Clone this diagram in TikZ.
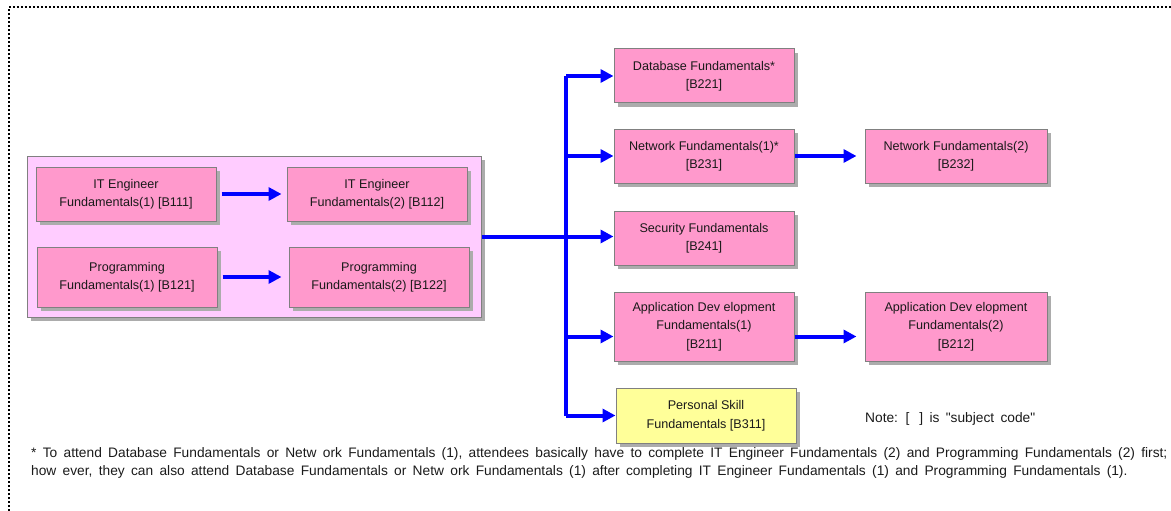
\documentclass[tikz,border=0pt]{standalone}
\usepackage{fontspec}
\setmainfont{Liberation Sans}
\newfontfamily\notefont[WordSpace=1.65]{Liberation Sans}
\usetikzlibrary{arrows.meta,shadows}
\definecolor{boxpink}{HTML}{FF99CC}
\definecolor{grouppink}{HTML}{FFCCFF}
\definecolor{boxyellow}{HTML}{FFFF99}
\definecolor{edgegray}{HTML}{808080}
\definecolor{inkgray}{HTML}{1A1A1A}
\tikzset{
  dropshadow/.style={general shadow={fill=gray!65, shadow xshift=4pt, shadow yshift=-4pt}},
  course/.style={draw=edgegray, line width=1pt, fill=boxpink, dropshadow,
    minimum width=180pt, minimum height=54pt, inner sep=0pt, align=center,
    text=inkgray, font=\fontsize{12.6}{18.5}\selectfont},
  group/.style={draw=edgegray, line width=1pt, fill=grouppink, dropshadow, inner sep=0pt},
  flow/.style={draw=blue, line width=4pt, -{Triangle[length=13pt,width=13pt]}},
  trunkline/.style={draw=blue, line width=4pt},
  plain/.style={text=inkgray, font=\notefont\fontsize{13.75}{18}\selectfont, inner sep=0pt},
  frameline/.style={draw=black, line width=2pt, dash pattern=on 2pt off 2pt}
}
\begin{document}
\begin{tikzpicture}[x=1pt,y=-1pt]
\useasboundingbox (0,0) rectangle (1171,511);
% outer dotted frame (open to the right and bottom)
\draw[frameline] (8.5,511) -- (8.5,7.5) -- (1171,7.5);

% first-stage group
\node[group, minimum width=454pt, minimum height=161pt] (grp) at (254,236.5) {};
\node[course] (b111) at (126,194) {IT Engineer\\Fundamentals(1) [B111]};
\node[course] (b112) at (377,194) {IT Engineer\\Fundamentals(2) [B112]};
\node[course, minimum height=60pt] (b121) at (127,277) {Programming\\Fundamentals(1) [B121]};
\node[course, minimum height=60pt] (b122) at (379,277) {Programming\\Fundamentals(2) [B122]};

% second-stage courses
\node[course] (b221) at (704,76) {Database Fundamentals*\\{}[B221]};
\node[course] (b231) at (704,156) {Network Fundamentals(1)*\\{}[B231]};
\node[course] (b241) at (704,238) {Security Fundamentals\\{}[B241]};
\node[course, minimum height=69pt] (b211) at (704,326.5) {Application Dev elopment\\Fundamentals(1)\\{}[B211]};
\node[course, fill=boxyellow, minimum height=55pt] (b311) at (706,415.5) {Personal Skill\\Fundamentals [B311]};
\node[course, minimum width=182pt] (b232) at (956,156) {Network Fundamentals(2)\\{}[B232]};
\node[course, minimum width=182pt, minimum height=69pt] (b212) at (956,326.5) {Application Dev elopment\\Fundamentals(2)\\{}[B212]};

% connectors
\draw[flow] ([xshift=5pt]b111.east) -- ([xshift=-5pt]b112.west);
\draw[flow] ([xshift=5pt]b121.east) -- ([xshift=-7pt]b122.west);
\coordinate (trunk) at (566,0);
\coordinate (adrow) at ([yshift=-10pt]b211.west);
\draw[flow] (grp.east) -- (grp.east -| b241.west);
\draw[trunkline] (trunk |- b221.west) -- (trunk |- b311.west);
\draw[flow] (trunk |- b221.west) -- (b221.west);
\draw[flow] (trunk |- b231.west) -- (b231.west);
\draw[flow] (trunk |- adrow) -- (adrow);
\draw[flow] (trunk |- b311.west) -- (b311.west);
\draw[flow] (b231.east) -- ([xshift=-8pt]b232.west);
\draw[flow] (b211.east |- adrow) -- ([xshift=-8pt]b212.west |- adrow);

% notes
\node[plain, anchor=west] (note) at (865,419) {Note: [\hspace{10pt}] is "subject code"};
\node[plain, anchor=north west, align=left] (foot) at (31,447)
  {* To attend Database Fundamentals or Netw ork Fundamentals (1), attendees basically have to complete IT Engineer Fundamentals (2) and Programming Fundamentals (2) first;\\
   how ever, they can also attend Database Fundamentals or Netw ork Fundamentals (1) after completing IT Engineer Fundamentals (1) and Programming Fundamentals (1).};
\end{tikzpicture}
\end{document}
